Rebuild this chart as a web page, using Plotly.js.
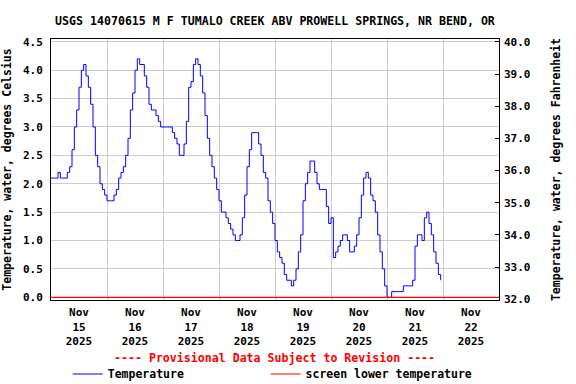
<!DOCTYPE html>
<html>
<head>
<meta charset="utf-8">
<script src="https://cdn.plot.ly/plotly-3.0.1.min.js"></script>
<style>html,body{margin:0;padding:0;background:#fff}#chart{width:576px;height:384px}</style>
</head>
<body>
<div id="chart"></div>
<script>
// ---- data ----
var startTime = '2025-11-15T00:00:00';
var endTime = '2025-11-23T00:00:00';
// hourly water temperature, degrees Celsius, from Nov 15 00:00
var tempC = [
  2.1,2.1,2.1,2.2,2.1,2.1,2.1,2.2,2.3,2.6,
  3.0,3.3,3.7,4.0,4.1,3.9,3.7,3.4,3.0,2.5,
  2.3,2.0,1.9,1.8,1.7,1.7,1.7,1.8,1.9,2.1,
  2.2,2.3,2.5,2.8,3.3,3.6,4.0,4.2,4.1,4.1,
  3.9,3.7,3.4,3.3,3.3,3.2,3.1,3.0,3.0,3.0,
  3.0,3.0,2.9,2.8,2.7,2.5,2.5,2.7,3.1,3.7,
  3.8,4.1,4.2,4.1,3.9,3.6,3.2,2.8,2.5,2.3,
  2.1,1.9,1.7,1.5,1.5,1.4,1.3,1.2,1.1,1.0,
  1.0,1.1,1.4,1.8,2.3,2.6,2.9,2.9,2.9,2.7,
  2.5,2.2,2.1,1.7,1.5,1.3,1.0,0.8,0.7,0.6,
  0.4,0.3,0.3,0.2,0.3,0.5,0.8,1.1,1.7,2.0,
  2.2,2.4,2.4,2.2,2.0,1.9,1.9,1.9,1.6,1.3,
  1.4,0.7,0.8,0.9,1.0,1.1,1.1,1.0,0.8,0.8,
  0.9,1.1,1.4,1.8,2.1,2.2,2.1,1.8,1.7,1.5,
  1.1,0.8,0.5,0.2,0.0,0.0,0.1,0.1,0.1,0.1,
  0.1,0.2,0.2,0.2,0.2,0.3,0.9,1.1,1.1,1.0,
  1.4,1.5,1.3,1.1,0.8,0.6,0.4,0.3
];
var screenLower = [0.0, 0.0];
var dayStarts = ['2025-11-15','2025-11-16','2025-11-17','2025-11-18','2025-11-19','2025-11-20','2025-11-21','2025-11-22','2025-11-23'];
var dayLabelTimes = ['2025-11-15 12:00','2025-11-16 12:00','2025-11-17 12:00','2025-11-18 12:00','2025-11-19 12:00','2025-11-20 12:00','2025-11-21 12:00','2025-11-22 12:00'];
var dayLabels = ['Nov<br>15<br>2025','Nov<br>16<br>2025','Nov<br>17<br>2025','Nov<br>18<br>2025','Nov<br>19<br>2025','Nov<br>20<br>2025','Nov<br>21<br>2025','Nov<br>22<br>2025'];
var celsiusTicks = [0,0.5,1,1.5,2,2.5,3,3.5,4,4.5];
var fahrenheitTicks = [32,33,34,35,36,37,38,39,40];
var chartTitle = 'USGS 14070615 M F TUMALO CREEK ABV PROWELL SPRINGS, NR BEND, OR';
var provisionalNote = '---- Provisional Data Subject to Revision ----';

// ---- build times ----
var t0 = new Date(startTime + 'Z').getTime();
function fmt(ms){ return new Date(ms).toISOString().slice(0,19).replace('T',' '); }
var times = tempC.map(function(_, i){ return fmt(t0 + i*3600000); });
var xStart = startTime.replace('T',' '), xEnd = endTime.replace('T',' ');

var FONT = 'DejaVu Sans Mono';
function f(size, color){ return {family: FONT, size: size, color: color || '#000', weight: 'bold'}; }
var GRID = '#cccccc';

var traces = [
  {x: times, y: tempC, type: 'scatter', mode: 'lines', name: 'Temperature',
   line: {color: '#0000ff', width: 1, shape: 'hv'}, legend: 'legend'},
  {x: [xStart, xEnd], y: screenLower, type: 'scatter', mode: 'lines',
   name: 'screen lower temperature', line: {color: '#ff0000', width: 1.2}, legend: 'legend2'},
  // empty trace so the Fahrenheit axis is drawn
  {x: [], y: [], type: 'scatter', mode: 'lines', yaxis: 'y2', showlegend: false, hoverinfo: 'skip'}
];

var layout = {
  width: 576, height: 384,
  margin: {l: 51, r: 77, t: 39, b: 84, pad: 0, autoexpand: false},
  paper_bgcolor: '#fff', plot_bgcolor: '#fff',
  showlegend: true,
  title: {text: chartTitle, font: f(11.6), x: 0.4774, xref: 'container', xanchor: 'center',
          y: 0.9466, yref: 'container', yanchor: 'middle'},
  xaxis: {
    type: 'date', range: [xStart, xEnd],
    tickmode: 'array', tickvals: dayLabelTimes, ticktext: dayLabels,
    ticks: 'outside', ticklen: 2, tickcolor: 'rgba(0,0,0,0)', showgrid: false, zeroline: false,
    showline: true, mirror: true, linecolor: '#000', linewidth: 1,
    tickfont: f(11),
    minor: {tickmode: 'array', tickvals: dayStarts, showgrid: true, gridcolor: GRID, gridwidth: 1, ticks: ''}
  },
  yaxis: {
    range: [-0.048, 4.55], tickmode: 'array', tickvals: celsiusTicks, tickformat: '.1f',
    ticks: 'outside', ticklen: 5, tickcolor: 'rgba(0,0,0,0)',
    showgrid: true, gridcolor: GRID, gridwidth: 1, zeroline: false,
    showline: true, mirror: true, linecolor: '#000', linewidth: 1,
    tickfont: f(11),
    title: {text: 'Temperature, water, degrees Celsius', font: f(11.5), standoff: 8}
  },
  yaxis2: {
    overlaying: 'y', side: 'right', anchor: 'x',
    range: [31.98, 40.09], tickmode: 'array', tickvals: fahrenheitTicks, tickformat: '.1f',
    ticks: 'inside', ticklen: 4, tickcolor: '#000', ticklabelstandoff: 4,
    showgrid: false, zeroline: false, showline: false,
    tickfont: f(11),
    title: {text: 'Temperature, water, degrees Fahrenheit', font: f(11.5), standoff: 22}
  },
  legend: {orientation: 'h', x: 0.0373, xanchor: 'left', y: -0.2835, yanchor: 'middle',
           font: f(11.5), bgcolor: 'rgba(0,0,0,0)', borderwidth: 0},
  legend2: {orientation: 'h', x: 0.479, xanchor: 'left', y: -0.2835, yanchor: 'middle',
           font: f(11.5), bgcolor: 'rgba(0,0,0,0)', borderwidth: 0},
  annotations: [
    {text: provisionalNote, xref: 'paper', yref: 'paper', x: 0.4989, y: -0.2222,
     xanchor: 'center', yanchor: 'middle', showarrow: false, font: f(11.6, '#ff0000')}
  ]
};

Plotly.newPlot('chart', traces, layout, {displayModeBar: false, staticPlot: true});
</script>
</body>
</html>
